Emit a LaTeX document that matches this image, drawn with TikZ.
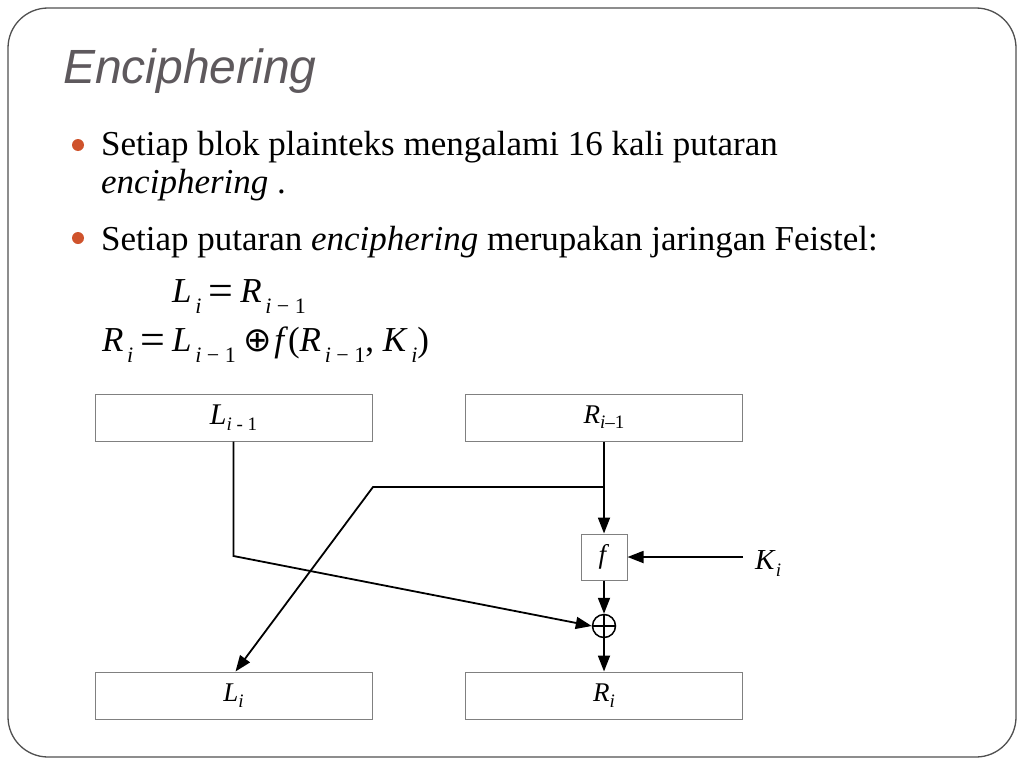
\documentclass[tikz,border=0pt]{standalone}
\usepackage{fontspec}
\setmainfont{Liberation Serif}
\newfontfamily\titlefont{Liberation Sans}
\newfontfamily\symbfont{DejaVu Sans}
\usetikzlibrary{arrows.meta}
\definecolor{titlegray}{RGB}{94,89,93}
\definecolor{bulletred}{RGB}{207,83,44}
\definecolor{boxgray}{RGB}{128,128,128}
\definecolor{framegray}{RGB}{80,80,80}
\newcommand\lsub[3]{\raisebox{-#1pt}{\fontsize{#2}{#2}\selectfont #3}}
\newcommand\bodysize{\fontsize{35}{42}\selectfont}
\newcommand\eqs{\hspace{7pt}\raisebox{-3pt}{\fontsize{44}{44}\selectfont =}\hspace{7pt}}
\newcommand\xorsym{\hspace{8pt}{\symbfont\fontsize{34}{34}\selectfont ⊕}\hspace{2pt}}
\begin{document}
\begin{tikzpicture}[x=1pt,y=-1pt,
  box/.style={draw=boxgray, line width=1pt, fill=white, inner sep=0pt},
  wide/.style={box, minimum width=277pt, minimum height=47pt},
  arr/.style={line width=1.8pt, -{Triangle[length=16pt,width=12pt]}},
  txt/.style={anchor=base west, inner sep=0pt, font=\bodysize},
  bullet/.style={circle, fill=bulletred, inner sep=0pt, minimum size=12pt}]
\useasboundingbox (0,0) rectangle (1024,768);
\fill[white] (0,0) rectangle (1024,768);
\draw[framegray, line width=1.3pt, rounded corners=40pt] (8,8) rectangle (1016,757);

% title
\node[anchor=base west, inner sep=0pt, text=titlegray,
      font=\titlefont\itshape\fontsize{48}{58}\selectfont] (title) at (63,83) {Enciphering};

% bullets and text
\node[bullet] (b1) at (78,145) {};
\node[txt] (t1) at (101,155) {Setiap blok plainteks mengalami 16 kali putaran};
\node[txt] (t2) at (101,193) {\textit{enciphering} .};
\node[bullet] (b2) at (78,238) {};
\node[txt] (t3) at (101,250) {Setiap putaran \textit{enciphering} merupakan jaringan Feistel:};
\node[txt] (e1) at (172,302) {\textit{L}\lsub{11}{22}{\,\textit{i}}\eqs\textit{R}\lsub{11}{22}{\,\textit{i} − 1}};
\node[txt] (e2) at (102,351) {\textit{R}\lsub{11}{22}{\,\textit{i}}\eqs\textit{L}\lsub{11}{22}{\,\textit{i} − 1}\xorsym\textit{f}(\textit{R}\lsub{11}{22}{\,\textit{i} − 1}, \textit{K}\lsub{11}{22}{\,\textit{i}})};

% diagram boxes
\node[wide, font=\fontsize{30}{32}\selectfont] (Lm) at (233.5,417.5) {\textit{L}\lsub{6}{19}{\textit{i} - 1}};
\node[wide, font=\fontsize{27}{29}\selectfont] (Rm) at (604,417.5) {\textit{R}\lsub{5}{19}{\textit{i}–1}};
\node[wide, font=\fontsize{27}{29}\selectfont] (Li) at (233.5,695.5) {\textit{L}\lsub{6}{19}{\textit{i}}};
\node[wide, font=\fontsize{27}{29}\selectfont] (Ri) at (604,695.5) {\textit{R}\lsub{6}{19}{\textit{i}}};
\node[box, minimum size=46pt, font=\fontsize{27}{29}\selectfont] (f) at (604,557) {\textit{f}};
\node[draw, circle, line width=1.5pt, minimum size=23pt, inner sep=0pt] (xor) at (604,626) {};
\draw[line width=1.5pt] (xor.north) -- (xor.south) (xor.west) -- (xor.east);
\node[anchor=west, inner xsep=12pt, inner ysep=0pt, font=\fontsize{29}{30}\selectfont] (K) at (743,563) {\textit{K}\lsub{7}{19}{\textit{i}}};

% connectors
\coordinate (br) at (604,487);
\coordinate (bl) at (373,487);
\coordinate (lc) at (233.5,556);
\draw[arr] (Rm.south) -- (f.north);
\draw[arr] (br) -- (bl) -- ([xshift=2pt]Li.north);
\draw[arr] (Lm.south) -- (lc) -- (xor.west);
\draw[arr] (f.south) -- (xor.north);
\draw[arr] (xor.south) -- (Ri.north);
\draw[arr] (K.west |- f.east) -- (f.east);
\end{tikzpicture}
\end{document}
